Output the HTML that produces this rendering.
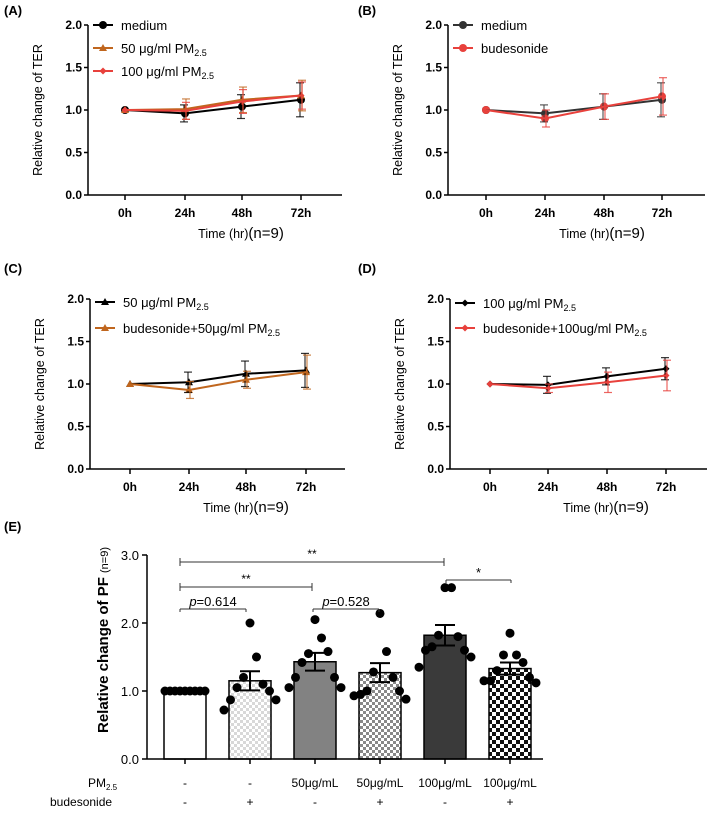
<!DOCTYPE html>
<html><head><meta charset="utf-8"><style>
body{margin:0;background:#fff;width:709px;height:819px;overflow:hidden}
svg{font-family:"Liberation Sans",sans-serif}
</style></head><body>
<svg id="s" width="709" height="819" xmlns="http://www.w3.org/2000/svg">
<defs>
<pattern id="p1" width="6" height="6" patternUnits="userSpaceOnUse"><rect width="6" height="6" fill="#fff"/><rect width="3" height="3" fill="#d8d8d8"/><rect x="3" y="3" width="3" height="3" fill="#d8d8d8"/></pattern>
<pattern id="p2" width="6" height="6" patternUnits="userSpaceOnUse"><rect width="6" height="6" fill="#fff"/><rect width="3" height="3" fill="#888"/><rect x="3" y="3" width="3" height="3" fill="#888"/></pattern>
<pattern id="p3" width="8" height="8" patternUnits="userSpaceOnUse"><rect width="8" height="8" fill="#fff"/><rect width="4" height="4" fill="#111"/><rect x="4" y="4" width="4" height="4" fill="#111"/></pattern>
</defs>
</svg>
<script>
const hours=["0h","24h","48h","72h"];
const yTicks=[0,0.5,1.0,1.5,2.0];
const A_med=[1,0.96,1.04,1.12], A_med_e=[0,0.1,0.14,0.2];
const A_50=[1,1.01,1.12,1.17], A_50_e=[0,0.12,0.15,0.18];
const A_100=[1,0.99,1.1,1.17], A_100_e=[0,0.1,0.14,0.16];
const B_med=[1,0.96,1.04,1.12], B_med_e=[0,0.1,0.15,0.2];
const B_bud=[1,0.9,1.04,1.16], B_bud_e=[0,0.1,0.15,0.22];
const C_50=[1,1.02,1.12,1.16], C_50_e=[0,0.12,0.15,0.2];
const C_bud=[1,0.93,1.05,1.14], C_bud_e=[0,0.1,0.1,0.2];
const D_100=[1,0.99,1.09,1.18], D_100_e=[0,0.1,0.1,0.13];
const D_bud=[1,0.95,1.02,1.1], D_bud_e=[0,0.05,0.12,0.18];
const barMeans=[1.0,1.15,1.43,1.27,1.82,1.33];
const barSem=[0,0.14,0.13,0.14,0.15,0.09];
const dots=[[1,1,1,1,1,1,1,1,1],[2.0,1.5,1.2,1.1,1.05,1.0,0.87,0.87,0.72],[2.05,1.78,1.55,1.58,1.42,1.2,1.2,1.05,1.05],[2.14,1.58,1.28,1.2,1.0,1.0,0.95,0.88,0.93],[2.52,2.52,1.82,1.8,1.65,1.6,1.6,1.5,1.35],[1.85,1.53,1.53,1.42,1.3,1.2,1.15,1.12,1.15]];
const pmLabels=["-","-","50μg/mL","50μg/mL","100μg/mL","100μg/mL"];
const budLabels=["-","+","-","+","-","+"];
const eTicks=[0,1.0,2.0,3.0];

const S=document.getElementById('s');const NS="http://www.w3.org/2000/svg";
function el(t,a,txt,p){const e=document.createElementNS(NS,t);for(const k in a)e.setAttribute(k,a[k]);if(txt!=null)e.innerHTML=txt;(p||S).appendChild(e);return e;}

function linePanel(o){
  const g=el('g',{});
  
  
  const y=v=>o.y0-(v/2)*(o.y0-o.y2);
  const x=i=>o.xs[i];
  el('text',{x:o.lx,y:o.ly,'font-size':13,'font-weight':'bold'},'('+o.id+')',g);
  el('line',{x1:o.ax,y1:o.y2,x2:o.ax,y2:o.y0,stroke:'#000','stroke-width':1.5},g);
  el('line',{x1:o.ax,y1:o.y0,x2:o.xe,y2:o.y0,stroke:'#000','stroke-width':1.5},g);
  yTicks.forEach(t=>{el('line',{x1:o.ax-4,y1:y(t),x2:o.ax,y2:y(t),stroke:'#000','stroke-width':1.5},g);
    const tt=el('text',{x:o.ax-6,y:y(t)+4,'font-size':12,'font-weight':'bold','text-anchor':'end'},t.toFixed(1),g);});
  hours.forEach((h,i)=>{el('line',{x1:x(i),y1:o.y0,x2:x(i),y2:o.y0+5,stroke:'#000','stroke-width':1.5},g);
    const tt=el('text',{x:x(i),y:o.y0+22,'font-size':12,'font-weight':'bold','text-anchor':'middle'},h,g);});
  const yt=el('text',{x:0,y:0,'font-size':12.5,'text-anchor':'middle',transform:`translate(${o.ax-46},${(o.y0+o.y2)/2}) rotate(-90)`},'Relative change of TER',g);
  
  const xt=el('text',{x:(o.xs[0]+o.xs[3])/2+28,y:o.y0+43,'font-size':12.5,'text-anchor':'middle'},'Time (hr)<tspan font-size="15">(n=9)</tspan>',g);
  
  o.series.forEach((s,si)=>{
    const sg=el('g',{},null,g);
    s.v.forEach((v,i)=>{if(s.e[i]>0){const x0=x(i)+(si?1:-1);el('line',{x1:x0,y1:y(v-s.e[i]),x2:x0,y2:y(v+s.e[i]),stroke:s.c,'stroke-width':1.2,opacity:0.8},sg);
      [v-s.e[i],v+s.e[i]].forEach(w=>el('line',{x1:x0-4,y1:y(w),x2:x0+4,y2:y(w),stroke:s.c,'stroke-width':1.2,opacity:0.8},sg));}});
    el('polyline',{points:s.v.map((v,i)=>x(i)+','+y(v)).join(' '),fill:'none',stroke:s.c,'stroke-width':2},sg);
    s.v.forEach((v,i)=>marker(sg,x(i),y(v),s.m,s.c));
    const ly=o.legY+si*o.legDy;
    el('line',{x1:o.ax+5,y1:ly,x2:o.ax+25,y2:ly,stroke:s.c,'stroke-width':2},sg);
    marker(sg,o.ax+15,ly,s.m,s.c);
    const lt=el('text',{x:o.ax+33,y:ly+5,'font-size':13},s.lab,sg);
  });
}
function marker(g,cx,cy,m,c){
  if(m==='c')el('circle',{cx,cy,r:4,fill:c},null,g);
  else if(m==='t')el('polygon',{points:`${cx},${cy-4} ${cx-4},${cy+3} ${cx+4},${cy+3}`,fill:c},null,g);
  else el('polygon',{points:`${cx},${cy-3.5} ${cx+3.5},${cy} ${cx},${cy+3.5} ${cx-3.5},${cy}`,fill:c},null,g);
}
const PM='PM<tspan font-size="9" dy="3">2.5</tspan>';
const BK='#000',OR='#c0661e',RD='#e8413c';
linePanel({id:'A',lx:4,ly:15,ax:88,y0:195,y2:25,xe:342,xs:[125,185,242,301],legY:25,legDy:23,series:[
 {key:'medium',v:A_med,e:A_med_e,c:BK,m:'c',lab:'medium'},
 {key:'50',v:A_50,e:A_50_e,c:OR,m:'t',lab:'50 μg/ml '+PM},
 {key:'100',v:A_100,e:A_100_e,c:RD,m:'d',lab:'100 μg/ml '+PM}]});
linePanel({id:'B',lx:358,ly:15,ax:448,y0:195,y2:25,xe:705,xs:[486,545,604,662],legY:25,legDy:23,series:[
 {key:'medium',v:B_med,e:B_med_e,c:'#333',m:'c',lab:'medium'},
 {key:'budesonide',v:B_bud,e:B_bud_e,c:RD,m:'c',lab:'budesonide'}]});
linePanel({id:'C',lx:4,ly:273,ax:90,y0:469,y2:299,xe:345,xs:[130,189,246,306],legY:302,legDy:26,series:[
 {key:'50',v:C_50,e:C_50_e,c:BK,m:'t',lab:'50 μg/ml '+PM},
 {key:'bud50',v:C_bud,e:C_bud_e,c:OR,m:'t',lab:'budesonide+50μg/ml '+PM}]});
linePanel({id:'D',lx:358,ly:273,ax:450,y0:469,y2:299,xe:707,xs:[490,548,607,666],legY:303,legDy:25,series:[
 {key:'100',v:D_100,e:D_100_e,c:BK,m:'d',lab:'100 μg/ml '+PM},
 {key:'bud100',v:D_bud,e:D_bud_e,c:RD,m:'d',lab:'budesonide+100ug/ml '+PM}]});

(function(){
 const g=el('g',{});
 const y0=759,y3=555,ax=147,xe=543;
 const y=v=>y0-v/3*(y0-y3);
 const xs=[185,250,315,380,445,510];const bw=42;
 el('text',{x:4,y:531,'font-size':13,'font-weight':'bold'},'(E)',g);
 const fills=['#fff','url(#p1)','#828282','url(#p2)','#3a3a3a','url(#p3)'];
 barMeans.forEach((m,i)=>{
   const b=el('rect',{x:xs[i]-bw/2,y:y(m),width:bw,height:y0-y(m),fill:fills[i],stroke:'#000','stroke-width':1.5},null,g);
   
 });
 dots.forEach((d,i)=>{const n=d.length;d.forEach((v,j)=>{const off=(j-(n-1)/2)*5;
   const dd=el('circle',{cx:xs[i]+(i===0?off:((j%2?1:-1)*Math.ceil(j/2)*6.5)),cy:y(v),r:4.5,fill:'#000'},null,g);
   });});
 barMeans.forEach((m,i)=>{if(barSem[i]>0){el('line',{x1:xs[i],y1:y(m-barSem[i]),x2:xs[i],y2:y(m+barSem[i]),stroke:'#000','stroke-width':2},null,g);
   [m-barSem[i],m+barSem[i]].forEach(w=>el('line',{x1:xs[i]-10,y1:y(w),x2:xs[i]+10,y2:y(w),stroke:'#000','stroke-width':2},null,g));}});
 el('line',{x1:ax,y1:y3,x2:ax,y2:y0,stroke:'#000','stroke-width':1.5},null,g);
 el('line',{x1:ax,y1:y0,x2:xe,y2:y0,stroke:'#000','stroke-width':1.5},null,g);
 eTicks.forEach(t=>{el('line',{x1:ax-5,y1:y(t),x2:ax,y2:y(t),stroke:'#000','stroke-width':1.5},null,g);
   const tt=el('text',{x:ax-8,y:y(t)+5,'font-size':13,'text-anchor':'end'},t.toFixed(1),g);});
 xs.forEach((x,i)=>{el('line',{x1:x,y1:y0,x2:x,y2:y0+5,stroke:'#000','stroke-width':1.5},null,g);
   el('text',{x:x,y:787,'font-size':12,'text-anchor':'middle'},pmLabels[i],g);
   el('text',{x:x,y:806,'font-size':12,'text-anchor':'middle'},budLabels[i],g);});
 el('text',{x:88,y:787,'font-size':12},'PM<tspan font-size="8" dy="3">2.5</tspan>',g);
 el('text',{x:50,y:806,'font-size':12},'budesonide',g);
 const yt=el('text',{x:0,y:0,'font-size':15,'font-weight':'bold','text-anchor':'middle',transform:'translate(108,640) rotate(-90)'},'Relative change of PF <tspan font-size="11" font-weight="normal">(n=9)</tspan>',g);
 
 function br(x1,x2,yy,lab){el('line',{x1,y1:yy,x2,y2:yy,stroke:'#333','stroke-width':1},null,g);
   el('line',{x1,y1:yy-4,x2:x1,y2:yy+4,stroke:'#333'},null,g);el('line',{x1:x2,y1:yy-4,x2:x2,y2:yy+4,stroke:'#333'},null,g);
   el('text',{x:(x1+x2)/2,y:yy-4,'font-size':12,'text-anchor':'middle'},lab,g);}
 br(180,444,562,'**');
 br(180,312,587,'**');
 function br2(x1,x2,yy,lab){el('line',{x1,y1:yy,x2,y2:yy,stroke:'#333'},null,g);el('line',{x1,y1:yy,x2:x1,y2:yy+3,stroke:'#333'},null,g);el('line',{x1:x2,y1:yy,x2:x2,y2:yy+3,stroke:'#333'},null,g);
   el('text',{x:(x1+x2)/2,y:yy-3,'font-size':13,'text-anchor':'middle'},lab,g);}
 br2(180,246,609,'<tspan font-style="italic">p</tspan>=0.614');
 br2(313,379,609,'<tspan font-style="italic">p</tspan>=0.528');
 br2(446,511,580,'*');
})();
</script>
</body></html>
